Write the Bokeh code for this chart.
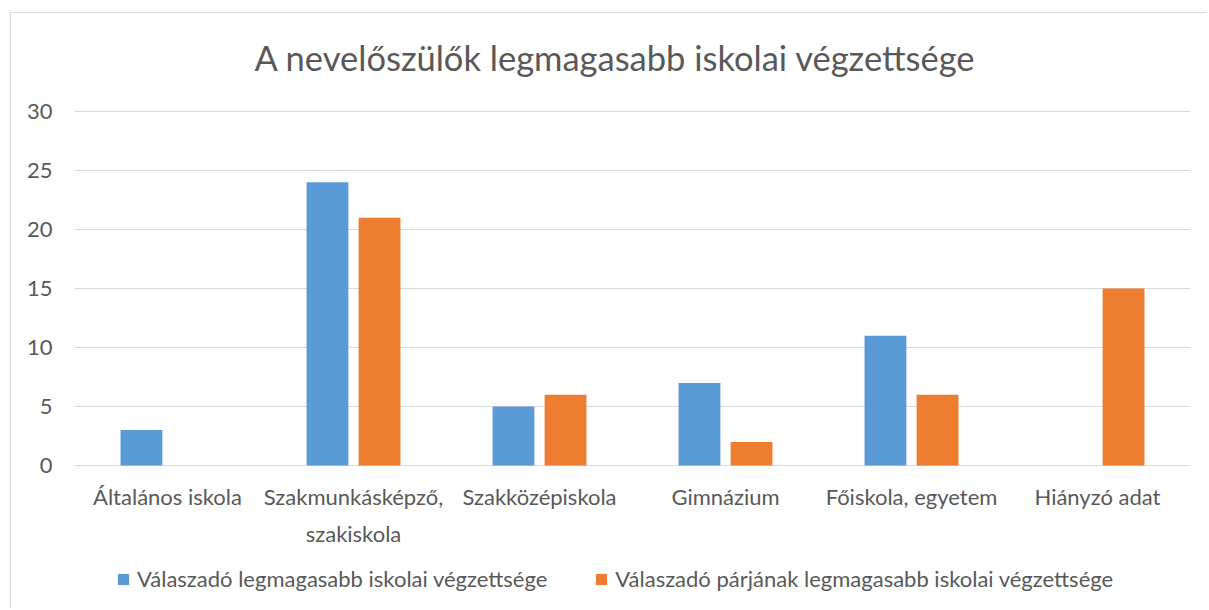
from bokeh.plotting import figure
from bokeh.models import ColumnDataSource, FactorRange, Range1d, Legend, LegendItem, FixedTicker, Label
from bokeh.transform import dodge
from bokeh.core.properties import value
from bokeh.embed import file_html
from bokeh.resources import INLINE

categories = ["Általános iskola", "Szakmunkásképző,\nszakiskola", "Szakközépiskola",
              "Gimnázium", "Főiskola, egyetem", "Hiányzó adat"]
respondent = [3, 24, 5, 7, 11, 0]
partner = [0, 21, 6, 2, 6, 15]
series_names = ["Válaszadó legmagasabb iskolai végzettsége",
                "Válaszadó párjának legmagasabb iskolai végzettsége"]
y_ticks = [0, 5, 10, 15, 20, 25, 30]
title_text = "A nevelőszülők legmagasabb iskolai végzettsége"

FONT = "Lato"
TXT = "#595959"
GRID = "#d9d9d9"
BLUE = "#5B9BD5"
ORANGE = "#ED7D31"

# value axis runs 0..30; extra room above/below holds title, category labels and legend
Y_MIN, Y_MAX = -12.2, 38.3

source = ColumnDataSource(dict(cat=categories, a=respondent, b=partner))
label_source = ColumnDataSource(dict(cat=categories, y=[-1.5] * len(categories)))

p = figure(x_range=FactorRange(*categories), y_range=Range1d(Y_MIN, Y_MAX),
           width=1196, height=596, output_backend="svg", toolbar_location=None,
           min_border_left=63, min_border_right=17, min_border_top=0, min_border_bottom=0)
p.margin = (12, 0, 0, 10)
p.styles = {"border-left": "1px solid #d9d9d9", "border-top": "1px solid #d9d9d9"}
p.outline_line_color = None
p.background_fill_color = "white"
p.border_fill_color = "white"

r1 = p.vbar(x=dodge("cat", -0.14, range=p.x_range), top="a", width=0.225, source=source,
            fill_color=BLUE, line_color=None)
r2 = p.vbar(x=dodge("cat", 0.14, range=p.x_range), top="b", width=0.225, source=source,
            fill_color=ORANGE, line_color=None)

# category labels under the baseline
p.text(x="cat", y="y", text="cat", source=label_source, text_align="center",
       text_baseline="top", text_font=value(FONT), text_font_size="22px",
       text_color=TXT, text_line_height=1.36)

p.xaxis.visible = False
p.xgrid.grid_line_color = None
p.ygrid.grid_line_color = GRID
p.ygrid.grid_line_width = 1
p.ygrid.ticker = FixedTicker(ticks=y_ticks)
p.yaxis.ticker = FixedTicker(ticks=y_ticks)
p.yaxis.major_tick_line_color = None
p.yaxis.minor_tick_line_color = None
p.yaxis.axis_line_color = None
p.yaxis.major_label_text_font = FONT
p.yaxis.major_label_text_font_size = "22px"
p.yaxis.major_label_text_color = TXT
p.yaxis.major_label_standoff = 16

title = Label(x=2.909, y=34.6, text=title_text, text_align="center", text_baseline="middle",
              text_font=FONT, text_font_size="34.5px", text_color=TXT)
p.add_layout(title)

legend = Legend(items=[LegendItem(label=series_names[0], renderers=[r1]),
                       LegendItem(label=series_names[1], renderers=[r2])],
                orientation="horizontal", location=(42, 17))
legend.glyph_width = 14
legend.glyph_height = 14
legend.label_standoff = 7
legend.spacing = 47
legend.padding = 0
legend.margin = 0
legend.border_line_color = None
legend.background_fill_alpha = 0
legend.label_text_font = FONT
legend.label_text_font_size = "22px"
legend.label_text_color = TXT
p.add_layout(legend, "center")

open("out.html", "w").write(file_html(p, INLINE))
